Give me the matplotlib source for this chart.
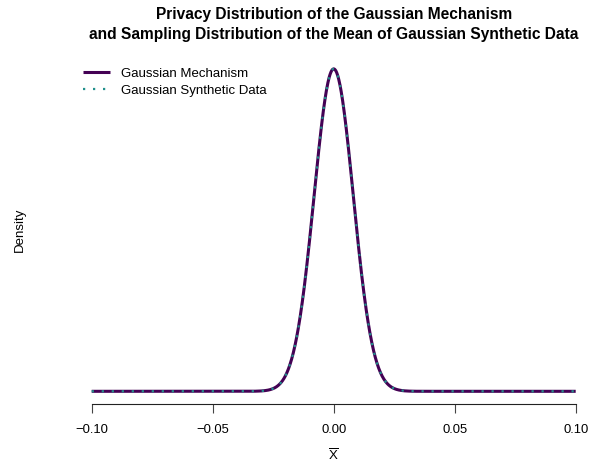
import numpy as np
import matplotlib
matplotlib.use("Agg")
import matplotlib.pyplot as plt

plt.rcParams['font.family'] = ['Liberation Sans', 'DejaVu Sans']
plt.rcParams['mathtext.fontset'] = 'custom'
plt.rcParams['mathtext.rm'] = 'Liberation Sans'
plt.rcParams['mathtext.it'] = 'Liberation Sans:italic'

# Data
title_lines = ["Privacy Distribution of the Gaussian Mechanism",
               "and Sampling Distribution of the Mean of Gaussian Synthetic Data"]
series_names = ["Gaussian Mechanism", "Gaussian Synthetic Data"]
series_means = [0.0, 0.0]
series_sds = [0.0081, 0.0081]
x_range = [-0.10, 0.10]
x_ticks = [-0.10, -0.05, 0.00, 0.05, 0.10]
x_tick_labels = ["\u22120.10", "\u22120.05", "0.00", "0.05", "0.10"]

W, H = 589, 466
fig = plt.figure(figsize=(W / 100, H / 100), dpi=100)

# plot region in pixels (R-style, 4% extension)
left_px, right_px = 72, 589
top_px, bottom_px = 56, 404.2
ax = fig.add_axes([left_px / W, 1 - bottom_px / H,
                   (right_px - left_px) / W, (bottom_px - top_px) / H])

x = np.linspace(x_range[0], x_range[1], 2001)
dens = []
for m, s in zip(series_means, series_sds):
    dens.append(np.exp(-0.5 * ((x - m) / s) ** 2) / (np.sqrt(2 * np.pi) * s))

ax.plot(x, dens[0], color='#440154', lw=2.2, solid_capstyle='butt',
        label=series_names[0])
ax.plot(x, dens[1], color='#21908C', lw=1.6, linestyle=(0, (1.0, 3.5)),
        dash_capstyle='butt', label=series_names[1])

# axis limits matching tick pixel positions: -0.1 at 91.7, 0.1 at 575.7
per_px = 0.2 / (575.7 - 91.7)
ax.set_xlim(-0.1 - (91.7 - left_px) * per_px, 0.1 + (right_px - 575.7) * per_px)
ymax = max(d.max() for d in dens)
ax.set_ylim(-0.04 * ymax, 1.04 * ymax)

for sp in ['top', 'right', 'left', 'bottom']:
    ax.spines[sp].set_visible(False)
ax.set_yticks([])
ax.set_xticks(x_ticks)
ax.set_xticklabels(x_tick_labels, fontsize=9.4)
ax.tick_params(axis='x', length=6.5, width=0.8, color='#444444', pad=7.5)
# R-style axis line spanning only the tick range
ax.plot([x_ticks[0], x_ticks[-1]], [-0.04 * ymax] * 2, color='#222222',
        lw=0.8, clip_on=False)

fig.text(333.8 / W, 1 - 15 / H, title_lines[0], ha='center', va='center',
         fontsize=11.2, fontweight='bold')
fig.text(333.8 / W, 1 - 34.5 / H, title_lines[1], ha='center', va='center',
         fontsize=11.2, fontweight='bold')

fig.text(20 / W, 1 - 230 / H, "Density", rotation=90, ha='center', va='center',
         fontsize=9.5)
fig.text(333.8 / W, 1 - 456 / H, r'$\overline{\mathrm{X}}$', ha='center',
         va='center', fontsize=9.5)

leg = fig.legend(loc='upper left', bbox_to_anchor=(83 / W, 1 - 67.5 / H),
                 frameon=False, fontsize=9.5, handlelength=2.05, handletextpad=0.8,
                 labelspacing=0.38, borderaxespad=0, borderpad=0)

fig.savefig('out.png', dpi=100)
